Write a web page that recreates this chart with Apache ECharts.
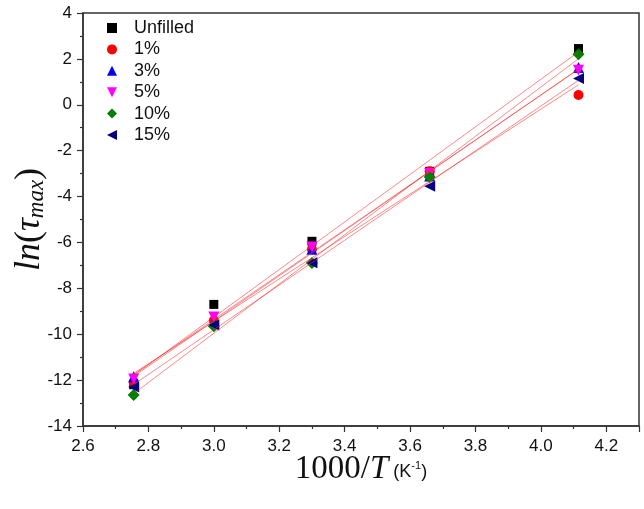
<!DOCTYPE html>
<html>
<head>
<meta charset="utf-8">
<script src="https://cdn.jsdelivr.net/npm/echarts@6/dist/echarts.min.js"></script>
<style>html,body{margin:0;padding:0;background:#fff;}#c{width:644px;height:509px;}</style>
</head>
<body>
<div id="c"></div>
<script>
// Data
const xValues = [2.755, 3.0, 3.3, 3.66, 4.115];
const seriesNames = ['Unfilled', '1%', '3%', '5%', '10%', '15%'];
const unfilled = [-12.2, -8.7, -5.95, -2.9, 2.45];
const pct1 = [-12.1, -9.4, -6.3, -2.9, 0.43];
const pct3 = [-11.85, -9.45, -6.3, -3.1, 1.62];
const pct5 = [-11.95, -9.25, -6.2, -3.0, 1.5];
const pct10 = [-12.65, -9.65, -6.9, -3.15, 2.2];
const pct15 = [-12.3, -9.6, -6.88, -3.55, 1.15];
const xTicks = ['2.6','2.8','3.0','3.2','3.4','3.6','3.8','4.0','4.2'];
const yTicks = ['-14','-12','-10','-8','-6','-4','-2','0','2','4'];

const allY = [unfilled, pct1, pct3, pct5, pct10, pct15];
const colors = ['#000000', '#ff0000', '#0000ff', '#ff00ff', '#008000', '#000080'];
const symbols = ['rect', 'circle', 'triangle', 'path://M0,0 L10,0 L5,10 Z', 'diamond', 'path://M10,0 L10,10 L0,5 Z'];
const sizes = [9, 10, 11, 11, 12, 11];

function linFit(xs, ys) {
  const n = xs.length;
  let sx = 0, sy = 0, sxx = 0, sxy = 0;
  for (let i = 0; i < n; i++) { sx += xs[i]; sy += ys[i]; sxx += xs[i]*xs[i]; sxy += xs[i]*ys[i]; }
  const b = (n*sxy - sx*sy) / (n*sxx - sx*sx);
  const a = (sy - b*sx) / n;
  const x0 = xs[0], x1 = xs[n-1];
  return [[x0, a + b*x0], [x1, a + b*x1]];
}

const series = [];
allY.forEach((ys, i) => {
  series.push({
    name: seriesNames[i],
    type: 'scatter',
    symbol: symbols[i],
    symbolSize: sizes[i],
    symbolKeepAspect: true,
    itemStyle: { color: colors[i], opacity: 1 },
    data: xValues.map((x, j) => [x, ys[j]]),
    z: 3
  });
});
allY.forEach((ys, i) => {
  series.push({
    name: 'fit' + i,
    type: 'line',
    data: linFit(xValues, ys),
    symbol: 'none',
    lineStyle: { color: 'rgba(255,40,40,0.55)', width: 1 },
    silent: true,
    z: 4
  });
});

const chart = echarts.init(document.getElementById('c'), null, { renderer: 'canvas' });
chart.setOption({
  animation: false,
  backgroundColor: '#fff',
  grid: { left: 83, right: 5, top: 13, bottom: 83, containLabel: false, outerBoundsMode: 'none',
    show: true, borderColor: '#333', borderWidth: 1.5, backgroundColor: 'transparent' },
  legend: {
    data: seriesNames.map((n, i) => ({ name: n, itemStyle: { color: colors[i] } })),
    orient: 'vertical',
    left: 102,
    top: 13,
    itemWidth: 10,
    itemHeight: 10,
    itemGap: 1.4,
    textStyle: { fontFamily: 'Liberation Sans', fontSize: 18, lineHeight: 20, color: '#111', padding: [0, 0, 0, 12] }
  },
  xAxis: {
    type: 'value',
    min: 2.6, max: 4.3, interval: 0.2,
    axisLine: { show: true, onZero: false, lineStyle: { color: '#333', width: 1.5 } },
    axisTick: { show: true, inside: false, length: 6, lineStyle: { color: '#333', width: 1.2 } },
    minorTick: { show: true, splitNumber: 2, length: 3, lineStyle: { color: '#333', width: 1.2 } },
    splitLine: { show: false },
    axisLabel: { margin: 12, fontFamily: 'Liberation Sans', fontSize: 17, color: '#111',
      formatter: v => { const s = v.toFixed(1); return xTicks.indexOf(s) >= 0 ? s : ''; } },
    name: '{a|1000/}{i|T}{s| (K}{sup|-1}{s|)}',
    nameLocation: 'middle',
    nameMoveOverlap: false,
    nameGap: 27,
    nameTextStyle: {
      rich: {
        a: { fontFamily: 'Liberation Serif', fontSize: 33, color: '#111' },
        i: { fontFamily: 'Liberation Serif', fontStyle: 'italic', fontSize: 33, color: '#111' },
        s: { fontFamily: 'Liberation Sans', fontSize: 18, color: '#111', padding: [6, 0, 0, 0] },
        sup: { fontFamily: 'Liberation Sans', fontSize: 11, color: '#111', padding: [0, 0, 8, 0] }
      }
    }
  },
  yAxis: {
    type: 'value',
    min: -14, max: 4, interval: 2,
    axisLine: { show: true, onZero: false, lineStyle: { color: '#333', width: 1.5 } },
    axisTick: { show: true, inside: false, length: 6, lineStyle: { color: '#333', width: 1.2 } },
    minorTick: { show: true, splitNumber: 2, length: 3, lineStyle: { color: '#333', width: 1.2 } },
    splitLine: { show: false },
    axisLabel: { margin: 11, fontFamily: 'Liberation Sans', fontSize: 17, color: '#111',
      formatter: v => { const s = String(Math.round(v)); return yTicks.indexOf(s) >= 0 ? s : ''; } },
    name: '{i|ln}{a|(}{i|τ}{s|max}{a|)}',
    nameLocation: 'middle',
    nameRotate: 90,
    nameMoveOverlap: false,
    nameGap: 35,
    nameTextStyle: {
      rich: {
        a: { fontFamily: 'Liberation Serif', fontSize: 36, color: '#111' },
        i: { fontFamily: 'Liberation Serif', fontStyle: 'italic', fontSize: 36, color: '#111' },
        s: { fontFamily: 'Liberation Serif', fontStyle: 'italic', fontSize: 23, color: '#111', padding: [14, 0, 0, 0] }
      }
    }
  },
  series: series
});
</script>
</body>
</html>
